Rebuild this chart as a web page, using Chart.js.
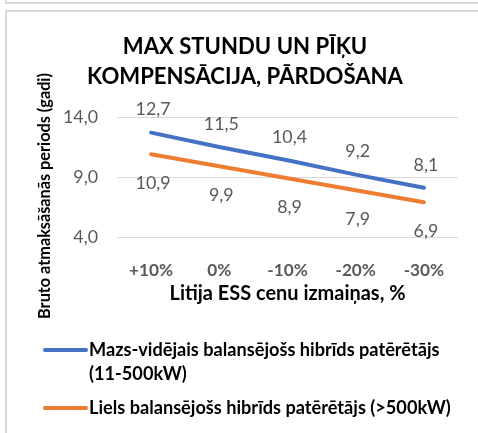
<!DOCTYPE html>
<html><head><meta charset="utf-8">
<script src="https://cdn.jsdelivr.net/npm/chart.js@4/dist/chart.umd.min.js"></script>
<style>html,body{margin:0;padding:0;background:#fff}#wrap{position:relative;width:478px;height:433px}</style>
</head><body><div id="wrap"><canvas id="c" width="478" height="433"></canvas></div>
<script>
const titleLines = ['MAX STUNDU UN PĪĶU', 'KOMPENSĀCIJA, PĀRDOŠANA'];
const categories = ['+10%', '0%', '-10%', '-20%', '-30%'];
const seriesSmall = [12.7, 11.5, 10.4, 9.2, 8.1];
const seriesLarge = [10.9, 9.9, 8.9, 7.9, 6.9];
const seriesNames = [
  ['Mazs-vidējais balansējošs hibrīds patērētājs', '(11-500kW)'],
  ['Liels balansējošs hibrīds patērētājs (>500kW)']
];
const yTickValues = [4, 9, 14];
const xTitle = 'Litija ESS cenu izmaiņas, %';
const yTitle = 'Bruto atmaksāšanās periods (gadi)';

const FONT = 'Lato, "Open Sans", sans-serif';
const fmt = v => v.toFixed(1).replace('.', ',');

const mctx = document.createElement('canvas').getContext('2d');
function fitSize(text, weight, target) {
  mctx.font = weight + ' 100px ' + FONT;
  return 100 * target / mctx.measureText(text).width;
}
const SZ = {
  title: fitSize(titleLines[1], 'bold', 316),
  xTitle: fitSize(xTitle, 'bold', 236),
  yTitle: fitSize(yTitle, 'bold', 246),
  legend: fitSize(seriesNames[1][0], 'bold', 362),
  xTick: fitSize('+10%', 'bold', 44),
  value: fitSize('12,7', 'normal', 35)
};

const framePlugin = {
  id: 'frame',
  beforeDraw(chart) {
    const ctx = chart.ctx;
    ctx.save();
    ctx.fillStyle = '#fff';
    ctx.fillRect(0, 0, chart.width, chart.height);
    ctx.fillStyle = '#d9d9d9';
    ctx.fillRect(5, 0, 2, 3);
    ctx.fillRect(5, 2, chart.width, 2);
    ctx.fillRect(5, 10, chart.width, 2);
    ctx.fillRect(5, 10, 2, chart.height);
    ctx.restore();
  }
};

const labelPlugin = {
  id: 'valueLabels',
  afterDatasetsDraw(chart) {
    const ctx = chart.ctx;
    ctx.save();
    ctx.font = SZ.value + 'px ' + FONT;
    ctx.fillStyle = '#595959';
    ctx.textAlign = 'center';
    ctx.textBaseline = 'middle';
    chart.data.datasets.forEach((ds, i) => {
      const meta = chart.getDatasetMeta(i);
      meta.data.forEach((pt, j) => {
        ctx.fillText(fmt(ds.data[j]), pt.x + 2, pt.y + ds.labelOffset);
      });
    });
    ctx.restore();
  }
};

const yTitlePlugin = {
  id: 'yTitle',
  afterDraw(chart) {
    const ctx = chart.ctx;
    ctx.save();
    ctx.translate(45, 196);
    ctx.rotate(-Math.PI / 2);
    ctx.font = 'bold ' + SZ.yTitle + 'px ' + FONT;
    ctx.fillStyle = '#000';
    ctx.textAlign = 'center';
    ctx.textBaseline = 'middle';
    ctx.fillText(yTitle, 0, 0);
    ctx.restore();
  }
};

const legendPlugin = {
  id: 'customLegend',
  afterDraw(chart) {
    const ctx = chart.ctx;
    const rows = [350, 408];
    ctx.save();
    ctx.font = 'bold ' + SZ.legend + 'px ' + FONT;
    ctx.fillStyle = '#000';
    ctx.textAlign = 'left';
    ctx.textBaseline = 'middle';
    chart.data.datasets.forEach((ds, i) => {
      const y = rows[i];
      ctx.strokeStyle = ds.borderColor;
      ctx.lineWidth = 4;
      ctx.lineCap = 'round';
      ctx.beginPath();
      ctx.moveTo(45, y);
      ctx.lineTo(86, y);
      ctx.stroke();
      seriesNames[i].forEach((line, k) => ctx.fillText(line, 89, y + k * 24));
    });
    ctx.restore();
  }
};

new Chart(document.getElementById('c'), {
  type: 'line',
  data: {
    labels: categories,
    datasets: [
      { label: seriesNames[0].join(' '), data: seriesSmall, borderColor: '#4472C4', backgroundColor: '#4472C4', labelOffset: -23 },
      { label: seriesNames[1].join(' '), data: seriesLarge, borderColor: '#ED7D31', backgroundColor: '#ED7D31', labelOffset: 29 }
    ]
  },
  options: {
    responsive: false,
    animation: false,
    devicePixelRatio: 1,
    elements: {
      line: { borderWidth: 4, tension: 0, borderCapStyle: 'round' },
      point: { radius: 0, hoverRadius: 0 }
    },
    layout: { padding: { left: 32, right: 20, top: 0, bottom: 116 } },
    plugins: {
      legend: { display: false },
      tooltip: { enabled: false },
      title: {
        display: true,
        text: titleLines,
        color: '#000',
        font: { family: FONT, size: SZ.title, weight: 'bold', lineHeight: 30 / SZ.title },
        padding: { top: 32, bottom: 25 }
      }
    },
    scales: {
      x: {
        offset: true,
        grid: { display: false },
        border: { display: false },
        ticks: { color: '#595959', font: { family: FONT, size: SZ.xTick, weight: 'bold' }, padding: 15 },
        title: { display: true, text: xTitle, color: '#000', font: { family: FONT, size: SZ.xTitle, weight: 'bold' }, padding: { top: 0, bottom: 11 } },
        afterFit(scale) { scale.height = 80; }
      },
      y: {
        min: 4,
        max: 14,
        afterBuildTicks(scale) { scale.ticks = yTickValues.map(v => ({ value: v })); },
        grid: { color: '#d9d9d9', lineWidth: 1, drawTicks: false },
        border: { display: false },
        ticks: { color: '#595959', font: { family: FONT, size: SZ.value }, padding: 19, callback: v => fmt(v) },
        afterFit(scale) { scale.width = 85; }
      }
    }
  },
  plugins: [framePlugin, labelPlugin, yTitlePlugin, legendPlugin]
});
</script></body></html>
